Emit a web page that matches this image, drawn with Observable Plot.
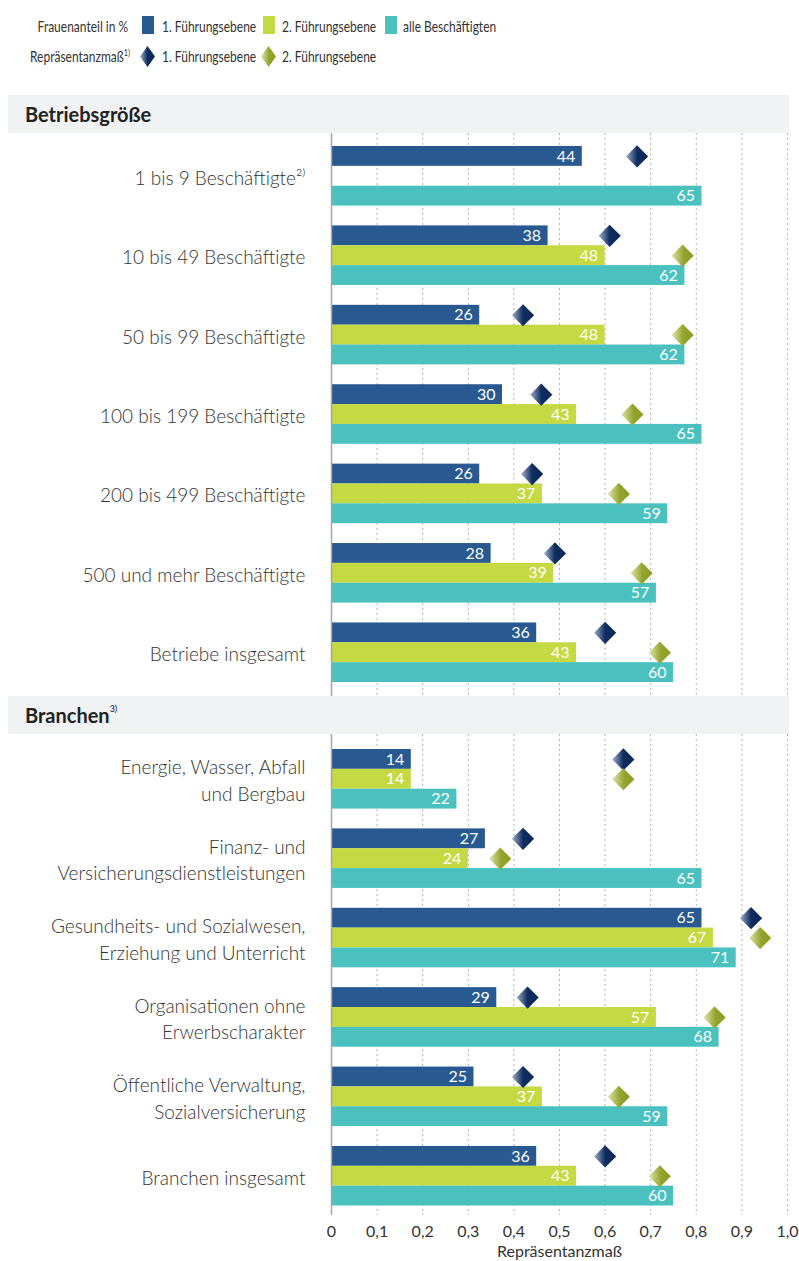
<!DOCTYPE html>
<html><head><meta charset="utf-8">
<script src="https://cdn.jsdelivr.net/npm/d3@7"></script>
<script src="https://cdn.jsdelivr.net/npm/@observablehq/plot@0.6"></script>
<style>
body{margin:0;background:#fff;font-family:Lato,"Open Sans",sans-serif;color:#333;}
#wrap{position:relative;width:799px;height:1261px;overflow:hidden;background:#fff;}
.abs{position:absolute;left:0;}
.lg{position:absolute;font-family:Lato,"Open Sans",sans-serif;font-size:15px;line-height:20px;white-space:nowrap;color:#333;transform:scaleX(0.8);transform-origin:left center;}
.lg.r{transform-origin:right center;}
.sw{position:absolute;width:12px;height:18px;}
.hdr{position:absolute;left:8px;width:781px;height:38px;background:#f1f2f4;font-weight:700;font-size:20px;color:#222;display:flex;align-items:center;padding-left:17px;box-sizing:border-box;}
sup{font-size:9px;font-weight:400;line-height:0;position:relative;top:-6px;vertical-align:baseline;}
</style></head><body>
<svg width="0" height="0" style="position:absolute">
  <defs>
    <linearGradient id="gNavy" x1="0" y1="0" x2="1" y2="0">
      <stop offset="0" stop-color="#a3b1c9"/>
      <stop offset="0.5" stop-color="#0e2d60"/>
      <stop offset="1" stop-color="#0a2757"/>
    </linearGradient>
    <linearGradient id="gGreen" x1="0" y1="0" x2="1" y2="0">
      <stop offset="0" stop-color="#e0e5b0"/>
      <stop offset="0.55" stop-color="#93a42c"/>
      <stop offset="1" stop-color="#8b9c24"/>
    </linearGradient>
  </defs>
</svg>
<div id="wrap"></div>
<script>
// ---------- DATA ----------
const seriesKeys = ["f1", "f2", "all"];
const seriesNames = ["1. Führungsebene", "2. Führungsebene", "alle Beschäftigten"];
const seriesColors = ["#285991", "#c5d942", "#4ac1bf"];

const section1Title = "Betriebsgröße";
const groups1 = ["1 bis 9 Beschäftigte²⁾", "10 bis 49 Beschäftigte", "50 bis 99 Beschäftigte",
  "100 bis 199 Beschäftigte", "200 bis 499 Beschäftigte", "500 und mehr Beschäftigte", "Betriebe insgesamt"];
const f1_1  = [44, 38, 26, 30, 26, 28, 36];
const f2_1  = [null, 48, 48, 43, 37, 39, 43];
const all_1 = [65, 62, 62, 65, 59, 57, 60];
const rep1_1 = [0.67, 0.61, 0.42, 0.46, 0.44, 0.49, 0.60];
const rep2_1 = [null, 0.77, 0.77, 0.66, 0.63, 0.68, 0.72];

const section2Title = "Branchen";
const groups2 = ["Energie, Wasser, Abfall\nund Bergbau", "Finanz- und\nVersicherungsdienstleistungen",
  "Gesundheits- und Sozialwesen,\nErziehung und Unterricht", "Organisationen ohne\nErwerbscharakter",
  "Öffentliche Verwaltung,\nSozialversicherung", "Branchen insgesamt"];
const f1_2  = [14, 27, 65, 29, 25, 36];
const f2_2  = [14, 24, 67, 57, 37, 43];
const all_2 = [22, 65, 71, 68, 59, 60];
const rep1_2 = [0.64, 0.42, 0.92, 0.43, 0.42, 0.60];
const rep2_2 = [0.64, 0.37, 0.94, 0.84, 0.63, 0.72];

const barMax = 80; // percent shown across the full width
const tickValues = [0, 0.1, 0.2, 0.3, 0.4, 0.5, 0.6, 0.7, 0.8, 0.9, 1.0];
const tickLabels = ["0", "0,1", "0,2", "0,3", "0,4", "0,5", "0,6", "0,7", "0,8", "0,9", "1,0"];
const axisTitle = "Repräsentanzmaß";

// ---------- BUILD ----------
function build(groups, f1, f2, all, rep1, rep2) {
  const domain = [];
  const bars = [], diamonds = [], labels = [];
  groups.forEach((g, i) => {
    if (i > 0) domain.push("sp" + i);
    seriesKeys.forEach(s => domain.push(g + "|" + s));
    const vals = [f1[i], f2[i], all[i]];
    vals.forEach((v, j) => { if (v != null) bars.push({slot: g + "|" + seriesKeys[j], series: seriesKeys[j], value: v}); });
    if (rep1[i] != null) diamonds.push({slot: g + "|f1", series: "f1", rep: rep1[i]});
    if (rep2[i] != null) diamonds.push({slot: g + "|f2", series: "f2", rep: rep2[i]});
    labels.push({slot: g + "|f2", label: g});
  });
  return {domain, bars, diamonds, labels};
}

function chart(d, opts) {
  const {height, marginTop, marginBottom, axis} = opts;
  const gridExt = {insetTop: -marginTop, insetBottom: axis ? -9.5 : -marginBottom};
  return Plot.plot({
    width: 799, height, marginLeft: 331, marginRight: 12, marginTop, marginBottom,
    style: {fontFamily: "Lato, 'Open Sans', sans-serif", fontSize: "16px", color: "#333", background: "transparent"},
    x: axis ? {domain: [0, 1], ticks: tickValues, tickFormat: v => tickLabels[Math.round(v * 10)], tickSize: 0, tickPadding: 20, label: null}
            : {domain: [0, 1], axis: null},
    y: {type: "band", domain: d.domain, padding: 0, round: false, axis: null},
    color: {domain: seriesKeys, range: seriesColors},
    marks: [
      Plot.ruleX(tickValues.slice(1), {stroke: "#b3b3b3", strokeWidth: 1, strokeDasharray: "2,3", ...gridExt}),
      Plot.barX(d.bars, {x: v => v.value / barMax, y: "slot", fill: v => v.series}),
      Plot.ruleX([0], {stroke: "#a6a6a6", strokeWidth: 1.5, ...gridExt}),
      Plot.text(d.bars, {x: v => v.value / barMax, y: "slot", text: v => String(v.value), textAnchor: "end", dx: -7, fill: "white", fontSize: 16}),
      Plot.dot(d.diamonds.filter(v => v.series === "f1"), {x: "rep", y: "slot", symbol: "diamond2", r: 10, fill: "url(#gNavy)", stroke: "none"}),
      Plot.dot(d.diamonds.filter(v => v.series === "f2"), {x: "rep", y: "slot", symbol: "diamond2", r: 10, fill: "url(#gGreen)", stroke: "none"}),
      Plot.text(d.labels, {frameAnchor: "left", y: "slot", text: "label", textAnchor: "end", dx: -26, fontSize: 19, fontWeight: 300, lineHeight: 1.4, fill: "#333"}),
      ...(axis ? [Plot.text([axisTitle], {frameAnchor: "bottom", text: v => v, dy: 51, fontSize: 16, fill: "#333"})] : [])
    ]
  });
}

const wrap = document.getElementById("wrap");
function addDiv(html, style, cls) {
  const el = document.createElement("div");
  if (cls) el.className = cls;
  el.innerHTML = html;
  Object.assign(el.style, style);
  wrap.appendChild(el);
  return el;
}

// Legend
addDiv("Frauenanteil in %", {right: (799 - 128) + "px", textAlign: "right", top: "16px"}, "lg r");
addDiv("Repräsentanzmaß<sup>1)</sup>", {right: (799 - 130) + "px", textAlign: "right", top: "46px"}, "lg r");
const swX = [142, 263, 385], txX = [162, 282, 403];
seriesKeys.forEach((s, i) => {
  addDiv("", {left: swX[i] + "px", top: "16px", background: seriesColors[i]}, "sw");
  addDiv(seriesNames[i], {left: txX[i] + "px", top: "16px"}, "lg");
});
["gNavy", "gGreen"].forEach((g, i) => {
  addDiv(`<svg width="15" height="21"><polygon points="7.5,0 15,10.5 7.5,21 0,10.5" fill="url(#${g})"/></svg>`,
    {position: "absolute", left: (swX[i] - 2) + "px", top: "46px", lineHeight: "0"});
  addDiv(seriesNames[i], {left: txX[i] + "px", top: "46px"}, "lg");
});

// Section headers
addDiv(section1Title, {top: "95px"}, "hdr");
addDiv(section2Title + "<sup>3)</sup>", {top: "696px"}, "hdr");

// Charts
const d1 = build(groups1, f1_1, f2_1, all_1, rep1_1, rep2_1);
const d2 = build(groups2, f1_2, f2_2, all_2, rep1_2, rep2_2);
const p1 = chart(d1, {height: 563, marginTop: 13, marginBottom: 14, axis: false});
const p2 = chart(d2, {height: 527, marginTop: 15, marginBottom: 55.5, axis: true});
const c1 = addDiv("", {top: "133px"}, "abs"); c1.appendChild(p1);
const c2 = addDiv("", {top: "734px"}, "abs"); c2.appendChild(p2);
</script>
</body></html>
